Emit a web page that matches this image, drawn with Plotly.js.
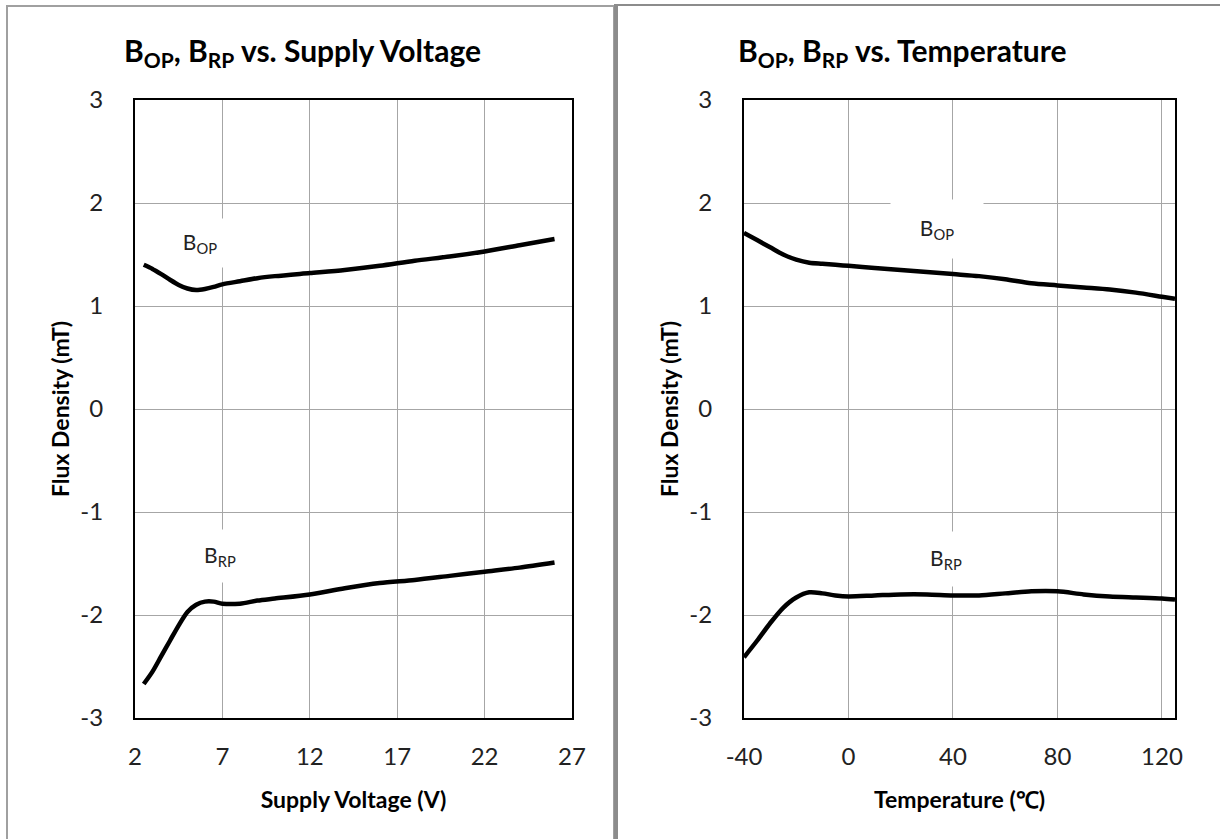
<!DOCTYPE html>
<html>
<head>
<meta charset="utf-8">
<script src="https://cdn.plot.ly/plotly-3.0.1.min.js"></script>
<style>html,body{margin:0;padding:0;background:#fff;}#chart{width:1220px;height:839px;}</style>
</head>
<body>
<div id="chart"></div>
<script>
// Left chart: vs. supply voltage
const voltage = [2.5, 3, 3.5, 4, 4.5, 5, 5.5, 6, 6.5, 7, 8, 9, 10, 12, 14, 16, 18, 20, 22, 24, 26];
const bopVoltage = [1.40, 1.36, 1.31, 1.255, 1.205, 1.17, 1.155, 1.165, 1.185, 1.21, 1.24, 1.27, 1.29, 1.32, 1.35, 1.39, 1.44, 1.48, 1.53, 1.59, 1.65];
const brpVoltage = [-2.67, -2.55, -2.40, -2.25, -2.10, -1.97, -1.90, -1.87, -1.87, -1.89, -1.89, -1.86, -1.84, -1.80, -1.74, -1.69, -1.66, -1.62, -1.58, -1.54, -1.49];

// Right chart: vs. temperature
const temperature = [-40, -35, -30, -25, -20, -15, -10, -5, 0, 10, 20, 30, 40, 50, 60, 70, 80, 90, 100, 110, 120, 125];
const bopTemp = [1.71, 1.64, 1.57, 1.50, 1.45, 1.42, 1.41, 1.40, 1.39, 1.37, 1.35, 1.33, 1.31, 1.29, 1.26, 1.22, 1.20, 1.18, 1.16, 1.13, 1.09, 1.07];
const brpTemp = [-2.41, -2.25, -2.08, -1.93, -1.83, -1.78, -1.79, -1.81, -1.82, -1.81, -1.80, -1.80, -1.81, -1.81, -1.79, -1.77, -1.77, -1.80, -1.82, -1.83, -1.84, -1.85];

const yTicks = [-3, -2, -1, 0, 1, 2, 3];
const xTicksVoltage = [2, 7, 12, 17, 22, 27];
const xTicksTemp = [-40, 0, 40, 80, 120];

const titleLeft = "B<sub>OP</sub>, B<sub>RP</sub> vs. Supply Voltage";
const titleRight = "B<sub>OP</sub>, B<sub>RP</sub> vs. Temperature";
const xTitleLeft = "Supply Voltage (V)";
const xTitleRight = "Temperature (℃)";
const yTitle = "Flux Density (mT)";
const labelBop = "B<sub>OP</sub>";
const labelBrp = "B<sub>RP</sub>";

const W = 1220, H = 839;
const FONT = "Lato, 'Open Sans', sans-serif";
const lineStyle = {color: '#000', width: 4.5, shape: 'spline', smoothing: 0.8};

const traces = [
  {x: voltage, y: bopVoltage, xaxis: 'x', yaxis: 'y', mode: 'lines', line: lineStyle, name: 'BOP', hoverinfo: 'x+y'},
  {x: voltage, y: brpVoltage, xaxis: 'x', yaxis: 'y', mode: 'lines', line: lineStyle, name: 'BRP', hoverinfo: 'x+y'},
  {x: temperature, y: bopTemp, xaxis: 'x2', yaxis: 'y2', mode: 'lines', line: lineStyle, name: 'BOP', hoverinfo: 'x+y'},
  {x: temperature, y: brpTemp, xaxis: 'x2', yaxis: 'y2', mode: 'lines', line: lineStyle, name: 'BRP', hoverinfo: 'x+y'}
];

const yDom = [1 - 718 / H, 1 - 100 / H];
function xAxis(domain, range, ticks, title, anchor) {
  return {
    domain: domain, range: range, anchor: anchor,
    tickmode: 'array', tickvals: ticks, ticktext: ticks.map(String),
    showgrid: true, gridcolor: '#a6a6a6', gridwidth: 1,
    zeroline: false, showline: true, mirror: true, linecolor: '#000', linewidth: 2,
    ticks: 'outside', ticklen: 16, tickcolor: 'rgba(0,0,0,0)',
    tickfont: {family: FONT, size: 24, color: '#222'},
    title: {text: title, standoff: 23, font: {family: FONT, size: 23, color: '#000', weight: 'bold'}},
    fixedrange: true, automargin: false
  };
}
function yAxis(range, anchor) {
  return {
    domain: yDom, range: range, anchor: anchor,
    tickmode: 'array', tickvals: yTicks, ticktext: yTicks.map(String),
    showgrid: true, gridcolor: '#a6a6a6', gridwidth: 1,
    zeroline: false, showline: true, mirror: true, linecolor: '#000', linewidth: 2,
    ticks: 'outside', ticklen: 25, tickcolor: 'rgba(0,0,0,0)',
    tickfont: {family: FONT, size: 24, color: '#222'},
    title: {text: yTitle, standoff: 4, font: {family: FONT, size: 23, color: '#000', weight: 'bold'}},
    fixedrange: true, automargin: false
  };
}

const labelFont = {family: FONT, size: 21, color: '#222'};
function lab(text, x, y, xr, yr, w, h) {
  return {text: text, x: x, y: y, xref: xr, yref: yr, showarrow: false,
          bgcolor: '#ffffff', width: w, height: h, font: labelFont, xanchor: 'center', yanchor: 'middle'};
}

const layout = {
  width: W, height: H,
  margin: {l: 0, r: 0, t: 0, b: 0},
  paper_bgcolor: '#ffffff', plot_bgcolor: '#ffffff',
  showlegend: false,
  xaxis: xAxis([135 / W, 572 / W], [2, 27], xTicksVoltage, xTitleLeft, 'y'),
  yaxis: yAxis([-3, 3], 'x'),
  xaxis2: xAxis([744 / W, 1175 / W], [-40, 125], xTicksTemp, xTitleRight, 'y2'),
  yaxis2: yAxis([-3, 3], 'x2'),
  annotations: [
    {text: titleLeft, x: 302 / W, y: 1 - 52 / H, xref: 'paper', yref: 'paper', showarrow: false,
     xanchor: 'center', yanchor: 'middle', font: {family: FONT, size: 30, color: '#000', weight: 'bold'}},
    {text: titleRight, x: 902 / W, y: 1 - 52 / H, xref: 'paper', yref: 'paper', showarrow: false,
     xanchor: 'center', yanchor: 'middle', font: {family: FONT, size: 30, color: '#000', weight: 'bold'}},
    lab(labelBop, 5.7, 1.61, 'x', 'y', 88, 46),
    lab(labelBrp, 6.85, -1.43, 'x', 'y', 88, 50),
    lab(labelBop, 34.0, 1.75, 'x2', 'y2', 90, 56),
    lab(labelBrp, 37.5, -1.456, 'x2', 'y2', 88, 52)
  ],
  shapes: [
    {type: 'rect', xref: 'paper', yref: 'paper', x0: 7 / W, x1: 614 / W, y0: -0.02, y1: 1 - 6 / H,
     line: {color: '#a0a0a0', width: 2}, fillcolor: 'rgba(0,0,0,0)', layer: 'below'},
    {type: 'line', xref: 'paper', yref: 'paper', x0: 614 / W, x1: 1.01, y0: 1 - 5 / H, y1: 1 - 5 / H,
     line: {color: '#8c8c8c', width: 2}, layer: 'below'},
    {type: 'line', xref: 'paper', yref: 'paper', x0: 616 / W, x1: 616 / W, y0: -0.02, y1: 1 - 5 / H,
     line: {color: '#8c8c8c', width: 4}, layer: 'below'}
  ]
};

Plotly.newPlot('chart', traces, layout, {displayModeBar: false, staticPlot: true});
</script>
</body>
</html>
